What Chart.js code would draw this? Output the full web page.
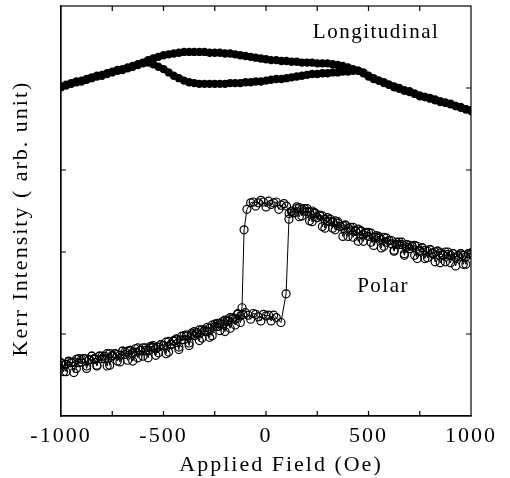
<!DOCTYPE html>
<html lang="en">
<head>
<meta charset="UTF-8">
<title>Kerr intensity vs applied field</title>
<script src="https://cdn.jsdelivr.net/npm/chart.js@4.4.0/dist/chart.umd.min.js"></script>
<style>
  body { margin: 0; background: #fff; }
</style>
</head>
<body>
<canvas id="kerr" width="510" height="478"></canvas>
<script>
  // Longitudinal loop: field grid (Oe) and the two branches of the loop
  const fieldLong = [-1000,-975,-950,-925,-900,-875,-850,-825,-800,-775,-750,-725,-700,-675,-650,-625,-600,-575,-550,-525,-500,-475,-450,-425,-400,-375,-350,-325,-300,-275,-250,-225,-200,-175,-150,-125,-100,-75,-50,-25,0,25,50,75,100,125,150,175,200,225,250,275,300,325,350,375,400,425,450,475,500,525,550,575,600,625,650,675,700,725,750,775,800,825,850,875,900,925,950,975,1000];
  const longUpper = [4.02,4.04,4.05,4.07,4.09,4.10,4.12,4.14,4.16,4.18,4.19,4.21,4.23,4.25,4.27,4.29,4.31,4.34,4.36,4.38,4.40,4.41,4.42,4.43,4.44,4.44,4.44,4.44,4.44,4.43,4.43,4.43,4.42,4.42,4.41,4.40,4.39,4.38,4.37,4.36,4.35,4.34,4.34,4.33,4.33,4.32,4.32,4.31,4.31,4.31,4.30,4.30,4.30,4.29,4.28,4.27,4.25,4.23,4.21,4.18,4.15,4.12,4.09,4.06,4.04,4.02,4.00,3.97,3.95,3.93,3.91,3.89,3.87,3.86,3.84,3.82,3.80,3.78,3.77,3.74,3.72];
  const longLower = [4.01,4.03,4.06,4.08,4.08,4.11,4.13,4.15,4.15,4.17,4.20,4.22,4.22,4.24,4.26,4.28,4.30,4.31,4.29,4.26,4.23,4.19,4.15,4.12,4.09,4.07,4.06,4.05,4.05,4.05,4.05,4.05,4.05,4.06,4.06,4.06,4.07,4.07,4.08,4.08,4.09,4.10,4.11,4.11,4.12,4.13,4.14,4.15,4.16,4.17,4.17,4.18,4.18,4.19,4.19,4.20,4.20,4.21,4.21,4.19,4.14,4.11,4.09,4.07,4.04,4.01,3.99,3.97,3.96,3.93,3.90,3.89,3.88,3.85,3.83,3.82,3.81,3.78,3.76,3.74,3.73];

  // Polar loop, increasing field sweep
  const fieldPolarUp = [-1000,-987.5,-975,-962.5,-950,-937.5,-925,-912.5,-900,-887.5,-875,-862.5,-850,-837.5,-825,-812.5,-800,-787.5,-775,-762.5,-750,-737.5,-725,-712.5,-700,-687.5,-675,-662.5,-650,-637.5,-625,-612.5,-600,-587.5,-575,-562.5,-550,-537.5,-525,-512.5,-500,-487.5,-475,-462.5,-450,-437.5,-425,-412.5,-400,-387.5,-375,-362.5,-350,-337.5,-325,-312.5,-300,-287.5,-275,-262.5,-250,-237.5,-225,-212.5,-200,-187.5,-175,-162.5,-150,-137.5,-125,-112.5,-100,-87.5,-75,-62.5,-50,-37.5,-25,-12.5,0,12.5,25,37.5,50,
    73,98,112,
    125,137.5,150,162.5,175,187.5,200,212.5,225,237.5,250,262.5,275,287.5,300,312.5,325,337.5,350,362.5,375,387.5,400,412.5,425,437.5,450,462.5,475,487.5,500,512.5,525,537.5,550,562.5,575,587.5,600,612.5,625,637.5,650,662.5,675,687.5,700,712.5,725,737.5,750,762.5,775,787.5,800,812.5,825,837.5,850,862.5,875,887.5,900,912.5,925,937.5,950,962.5,975,987.5,1000];
  const kerrPolarUp = [0.65,0.62,0.54,0.67,0.65,0.66,0.58,0.70,0.66,0.70,0.58,0.69,0.73,0.69,0.62,0.73,0.73,0.70,0.61,0.76,0.74,0.76,0.67,0.74,0.79,0.78,0.68,0.80,0.77,0.82,0.71,0.80,0.83,0.80,0.71,0.85,0.84,0.82,0.77,0.87,0.86,0.90,0.78,0.88,0.92,0.93,0.81,0.97,0.93,0.99,0.89,0.99,1.03,1.00,0.92,1.05,1.05,1.03,0.96,1.11,1.09,1.13,1.04,1.12,1.17,1.17,1.07,1.20,1.18,1.25,1.14,1.24,1.26,1.23,1.18,1.25,1.24,1.21,1.16,1.24,1.22,1.23,1.16,1.23,1.20,
    1.14,1.49,2.40,
    2.49,2.48,2.55,2.43,2.52,2.53,2.49,2.38,2.50,2.47,2.42,2.45,2.31,2.40,2.42,2.37,2.29,2.38,2.35,2.31,2.19,2.33,2.29,2.30,2.18,2.25,2.28,2.25,2.13,2.24,2.19,2.23,2.08,2.18,2.19,2.15,2.07,2.17,2.14,2.10,2.01,2.12,2.09,2.12,1.96,2.06,2.08,2.07,1.96,2.07,2.01,2.05,1.92,2.01,2.03,1.99,1.88,2.01,1.99,1.96,1.88,2.00,1.96,1.98,1.83,1.94,1.98,1.96,1.85,1.98,1.99];

  // Polar loop, decreasing field sweep
  const fieldPolarDown = [1000,987.5,975,962.5,950,937.5,925,912.5,900,887.5,875,862.5,850,837.5,825,812.5,800,787.5,775,762.5,750,737.5,725,712.5,700,687.5,675,662.5,650,637.5,625,612.5,600,587.5,575,562.5,550,537.5,525,512.5,500,487.5,475,462.5,450,437.5,425,412.5,400,387.5,375,362.5,350,337.5,325,312.5,300,287.5,275,262.5,250,237.5,225,212.5,200,187.5,175,162.5,150,137.5,125,112.5,100,87.5,75,62.5,50,37.5,25,12.5,0,-12.5,-25,-37.5,-50,-62.5,-75,
    -93,-107,-117,
    -125,-137.5,-150,-162.5,-175,-187.5,-200,-212.5,-225,-237.5,-250,-262.5,-275,-287.5,-300,-312.5,-325,-337.5,-350,-362.5,-375,-387.5,-400,-412.5,-425,-437.5,-450,-462.5,-475,-487.5,-500,-512.5,-525,-537.5,-550,-562.5,-575,-587.5,-600,-612.5,-625,-637.5,-650,-662.5,-675,-687.5,-700,-712.5,-725,-737.5,-750,-762.5,-775,-787.5,-800,-812.5,-825,-837.5,-850,-862.5,-875,-887.5,-900,-912.5,-925,-937.5,-950,-962.5,-975,-987.5,-1000];
  const kerrPolarDown = [1.97,1.98,1.94,1.85,1.98,1.96,1.93,1.98,1.87,1.97,2.00,1.97,1.87,2.01,2.00,1.98,2.03,1.93,2.02,2.05,2.02,1.92,2.08,2.07,2.04,2.09,1.98,2.09,2.12,2.09,2.02,2.14,2.14,2.12,2.18,2.05,2.17,2.20,2.18,2.12,2.24,2.23,2.21,2.26,2.13,2.26,2.30,2.27,2.19,2.32,2.32,2.31,2.37,2.27,2.37,2.40,2.38,2.29,2.44,2.44,2.42,2.48,2.37,2.49,2.53,2.50,2.44,2.54,2.53,2.48,2.50,2.47,2.56,2.59,2.57,2.52,2.61,2.60,2.58,2.62,2.55,2.61,2.63,2.60,2.56,2.61,2.60,
    2.52,2.27,1.32,
    1.22,1.24,1.11,1.18,1.20,1.15,1.03,1.15,1.13,1.09,1.12,0.98,1.07,1.08,1.03,0.95,1.05,1.02,0.98,1.01,0.86,0.97,0.98,0.93,0.84,0.94,0.91,0.87,0.91,0.76,0.86,0.87,0.84,0.74,0.86,0.83,0.80,0.83,0.73,0.80,0.83,0.78,0.67,0.80,0.79,0.75,0.79,0.66,0.75,0.76,0.73,0.62,0.76,0.73,0.70,0.73,0.61,0.70,0.73,0.68,0.61,0.70,0.69,0.65,0.69,0.53,0.65,0.66,0.63,0.54,0.64];

  const xTickMarks = [-750, -500, -250, 0, 250, 500, 750];
  const yTickMarks = [1, 2, 3, 4];
  const longLabel = 'Longitudinal';
  const polarLabel = 'Polar';

  const ink = '#000';
  const serif = "'Liberation Serif', 'Times New Roman', serif";
  const spacing = '2px';

  function pairs(xs, ys) {
    return xs.map((h, i) => ({ x: h, y: ys[i] }));
  }

  // canvas letter spacing, the scanned figure has wide text
  const textSpacing = {
    id: 'textSpacing',
    beforeUpdate(chart) { chart.ctx.letterSpacing = spacing; },
    beforeLayout(chart) { chart.ctx.letterSpacing = spacing; },
    beforeDraw(chart) { chart.ctx.letterSpacing = spacing; }
  };

  // box around the plot, inward ticks and the two curve labels
  const frame = {
    id: 'frame',
    afterDatasetsDraw(chart) {
      const { ctx, chartArea: a, scales: { x, y } } = chart;
      ctx.save();
      ctx.strokeStyle = ink;
      ctx.lineWidth = 1.2;
      ctx.strokeRect(a.left, a.top, a.right - a.left, a.bottom - a.top);
      ctx.beginPath();
      xTickMarks.forEach(v => {
        const px = x.getPixelForValue(v);
        ctx.moveTo(px, a.bottom); ctx.lineTo(px, a.bottom - 5);
        ctx.moveTo(px, a.top); ctx.lineTo(px, a.top + 5);
      });
      yTickMarks.forEach(v => {
        const py = y.getPixelForValue(v);
        ctx.moveTo(a.left, py); ctx.lineTo(a.left + 5, py);
        ctx.moveTo(a.right, py); ctx.lineTo(a.right - 5, py);
      });
      ctx.stroke();
      ctx.fillStyle = ink;
      ctx.letterSpacing = '1.5px';
      ctx.font = '21px ' + serif;
      ctx.textAlign = 'center';
      ctx.textBaseline = 'alphabetic';
      ctx.fillText(longLabel, x.getPixelForValue(537), y.getPixelForValue(4.61));
      ctx.fillText(polarLabel, x.getPixelForValue(571), y.getPixelForValue(1.51));
      ctx.restore();
    }
  };

  const polarStyle = {
    showLine: true, borderColor: ink, borderWidth: 1,
    pointRadius: 4, pointBackgroundColor: 'rgba(255,255,255,0)',
    pointBorderColor: ink, pointBorderWidth: 1.2
  };
  const longStyle = {
    showLine: true, borderColor: ink, borderWidth: 5,
    pointRadius: 4.2, pointBackgroundColor: ink, pointBorderWidth: 0
  };

  new Chart(document.getElementById('kerr'), {
    type: 'scatter',
    data: {
      datasets: [
        Object.assign({ label: 'Longitudinal (upper)', data: pairs(fieldLong, longUpper) }, longStyle),
        Object.assign({ label: 'Longitudinal (lower)', data: pairs(fieldLong, longLower) }, longStyle),
        Object.assign({ label: 'Polar (up)', data: pairs(fieldPolarUp, kerrPolarUp) }, polarStyle),
        Object.assign({ label: 'Polar (down)', data: pairs(fieldPolarDown, kerrPolarDown) }, polarStyle)
      ]
    },
    options: {
      responsive: false,
      animation: false,
      devicePixelRatio: 1,
      layout: { padding: { top: 6, right: 39, left: 0, bottom: 0 } },
      plugins: { legend: { display: false }, tooltip: { enabled: false } },
      scales: {
        x: {
          type: 'linear', min: -1000, max: 1000,
          ticks: { stepSize: 500, color: ink, padding: 7, font: { family: serif, size: 22 }, callback: v => String(v) },
          grid: { drawOnChartArea: false, drawTicks: false },
          border: { color: ink, width: 1.2 },
          title: { display: true, text: '    Applied Field (Oe)', color: ink, padding: { top: 0, bottom: 0 }, font: { family: serif, size: 22 } },
          afterFit(s) { s.height = 62; }
        },
        y: {
          min: 0, max: 5,
          ticks: { display: false },
          grid: { drawOnChartArea: false, drawTicks: false },
          border: { color: ink, width: 1.2 },
          title: { display: true, text: 'Kerr Intensity ( arb. unit)  ', color: ink, padding: { top: 8, bottom: 0 }, font: { family: serif, size: 22 } },
          afterFit(s) { s.width = 61; }
        }
      }
    },
    plugins: [textSpacing, frame]
  });
</script>
</body>
</html>
